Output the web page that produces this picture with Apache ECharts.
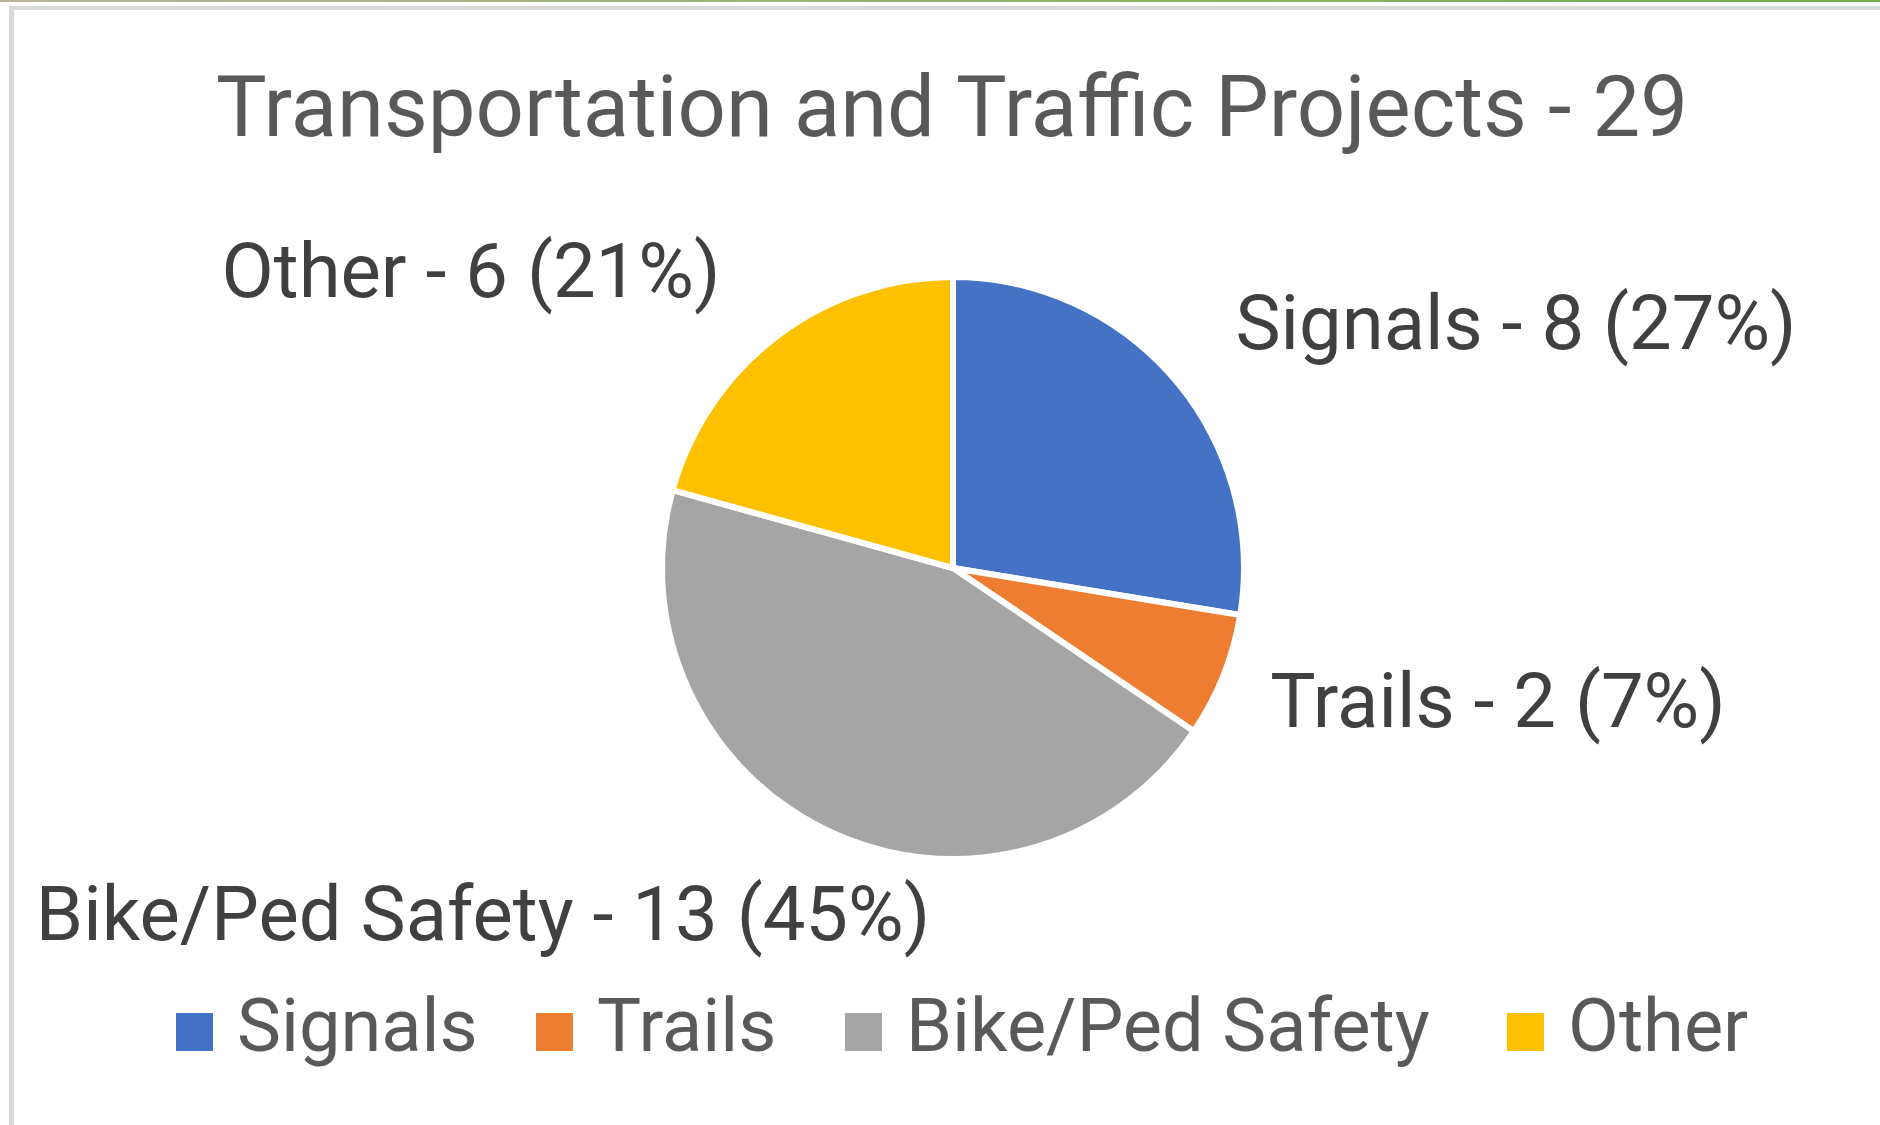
<!DOCTYPE html>
<html><head><meta charset="utf-8">
<script src="https://cdn.jsdelivr.net/npm/echarts@6/dist/echarts.min.js"></script>
<style>html,body{margin:0;padding:0;background:#fff}#chart{width:1880px;height:1125px}</style>
</head><body><div id="chart"></div>
<script>
const titleText = "Transportation and Traffic Projects - 29";
const categories = ["Signals", "Trails", "Bike/Ped Safety", "Other"];
const projectCounts = [8, 2, 13, 6];
const sliceColors = ["#4472C4", "#ED7D31", "#A5A5A5", "#FFC000"];
// label anchor positions (center x, cap-middle y) in pixels
const labelAnchors = [[1516, 325], [1498, 703], [483, 916], [471, 273]];
// legend item left edges in pixels
const legendLefts = [174, 534, 843, 1505];

const chart = echarts.init(document.getElementById('chart'), null, {renderer: 'canvas'});
const FONT = 'Roboto';
const option = {
  backgroundColor: '#ffffff',
  animation: false,
  title: {
    text: titleText,
    left: 216,
    top: 72,
    padding: 0,
    textStyle: {fontFamily: FONT, fontSize: 85, fontWeight: 'normal', color: '#595959'}
  },
  legend: categories.map((c, i) => ({
    data: [c],
    left: legendLefts[i],
    top: 995,
    padding: 0,
    itemWidth: 39,
    itemHeight: 40,
    icon: 'rect',
    selectedMode: false,
    textStyle: {fontFamily: FONT, fontSize: 74, color: '#595959', padding: [0, 0, 0, 18]}
  })),
  graphic: [
    {type: 'rect', shape: {x: 0, y: 0, width: 1880, height: 2}, z: 10,
     style: {fill: new echarts.graphic.LinearGradient(0, 0, 1, 0, [{offset: 0, color: '#b9b59c'}, {offset: 1, color: '#70ad47'}])}},
    {type: 'rect', shape: {x: 9, y: 6, width: 1871, height: 4}, z: 10, style: {fill: '#d9d9d9'}},
    {type: 'rect', shape: {x: 9, y: 6, width: 5, height: 1119}, z: 10, style: {fill: '#d9d9d9'}}
  ],
  series: [{
    type: 'pie',
    center: [953, 568],
    radius: 291,
    startAngle: 90,
    clockwise: true,
    percentPrecision: 0,
    itemStyle: {borderColor: '#ffffff', borderWidth: 6},
    label: {
      show: true,
      position: 'outside',
      formatter: '{b} - {c} ({d}%)',
      fontFamily: FONT,
      fontSize: 76,
      color: '#404040',
      overflow: 'none',
      width: 1200,
      edgeDistance: 0
    },
    labelLine: {show: false},
    labelLayout: function (params) {
      const a = labelAnchors[params.dataIndex];
      return {x: a[0], y: a[1] + 5, align: 'center', verticalAlign: 'middle'};
    },
    emphasis: {disabled: true},
    data: categories.map((c, i) => ({name: c, value: projectCounts[i], itemStyle: {color: sliceColors[i]}}))
  }]
};
chart.setOption(option);
</script></body></html>
